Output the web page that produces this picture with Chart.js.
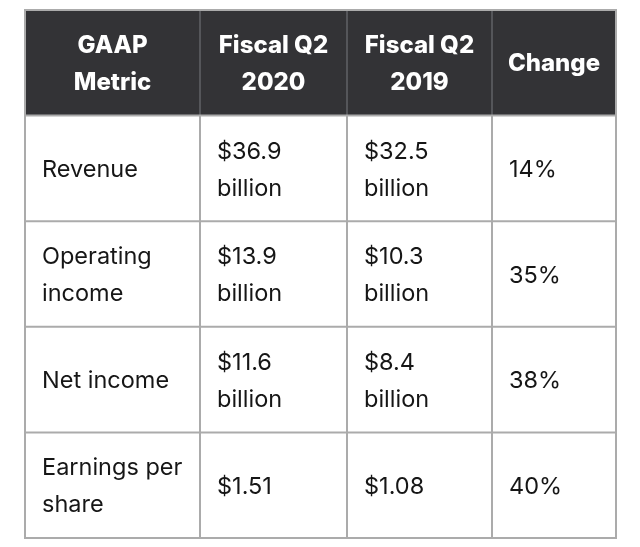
<!DOCTYPE html>
<html><head><meta charset="utf-8">
<script src="https://cdn.jsdelivr.net/npm/chart.js@4"></script>
<style>html,body{margin:0;padding:0;background:#fff}canvas{display:block}</style>
</head><body>
<canvas id="c" width="640" height="547"></canvas>
<script>
// ---- data ----
const headerLabels = ['GAAP\nMetric', 'Fiscal Q2\n2020', 'Fiscal Q2\n2019', 'Change'];
const metrics = ['Revenue', 'Operating\nincome', 'Net income', 'Earnings per\nshare'];
const q2_2020 = [36.9, 13.9, 11.6, 1.51];
const q2_2019 = [32.5, 10.3, 8.4, 1.08];
const units = ['billion', 'billion', 'billion', ''];
const changePct = [14, 35, 38, 40];

const money = (v, u) => '$' + String(v) + (u ? '\n' + u : '');
const bodyRows = metrics.map((m, i) => [m, money(q2_2020[i], units[i]), money(q2_2019[i], units[i]), changePct[i] + '%']);

const tablePlugin = {
  id: 'table',
  afterDraw(chart, args, opts) {
    const { ctx, chartArea: a, scales: { y } } = chart;
    const total = opts.colWidths.reduce((s, w) => s + w, 0);
    const xs = [a.left];
    opts.colWidths.forEach(w => xs.push(xs[xs.length - 1] + w / total * (a.right - a.left)));
    const n = y.getLabels().length;
    const band = (a.bottom - a.top) / n;
    const ys = [];
    for (let i = 0; i < n; i++) ys.push(y.getPixelForValue(i) - band / 2);
    ys.push(a.bottom);
    ctx.save();
    ctx.fillStyle = opts.headerBg;
    ctx.fillRect(a.left, ys[0], a.right - a.left, ys[1] - ys[0]);
    ctx.lineWidth = 2;
    ctx.strokeStyle = opts.headerLine;
    for (let c = 1; c < xs.length - 1; c++) {
      ctx.beginPath(); ctx.moveTo(xs[c], ys[0]); ctx.lineTo(xs[c], ys[1]); ctx.stroke();
    }
    ctx.strokeStyle = opts.line;
    for (let c = 1; c < xs.length - 1; c++) {
      ctx.beginPath(); ctx.moveTo(xs[c], ys[1]); ctx.lineTo(xs[c], a.bottom); ctx.stroke();
    }
    for (let r = 1; r < ys.length - 1; r++) {
      ctx.beginPath(); ctx.moveTo(a.left, ys[r]); ctx.lineTo(a.right, ys[r]); ctx.stroke();
    }
    ctx.strokeRect(a.left, a.top, a.right - a.left, a.bottom - a.top);

    const lh = opts.lineHeight;
    const drawCell = (text, c, r, header) => {
      const lines = text.split('\n');
      const cy = (ys[r] + ys[r + 1]) / 2;
      ctx.font = header ? ('800 ' + opts.headerFontSize + 'px ' + opts.fontFamily)
                        : ('400 ' + opts.fontSize + 'px ' + opts.fontFamily);
      ctx.fillStyle = header ? opts.headerColor : opts.bodyColor;
      ctx.textAlign = header ? 'center' : 'left';
      ctx.textBaseline = 'alphabetic';
      const x = header ? (xs[c] + xs[c + 1]) / 2 : xs[c] + opts.padX;
      lines.forEach((ln, k) => {
        const mid = cy + (k - (lines.length - 1) / 2) * lh;
        ctx.fillText(ln, x, mid + opts.capHalf);
      });
    };
    headerLabels.forEach((t, c) => drawCell(t, c, 0, true));
    bodyRows.forEach((row, r) => row.forEach((t, c) => drawCell(t, c, r + 1, false)));
    ctx.restore();
  }
};

new Chart(document.getElementById('c'), {
  type: 'bar',
  data: { labels: [], datasets: [] },
  plugins: [tablePlugin],
  options: {
    responsive: false,
    animation: false,
    layout: { padding: { left: 25, top: 10, right: 24, bottom: 9 } },
    scales: {
      x: { type: 'linear', min: 0, max: 1, display: false },
      y: { type: 'category', labels: ['header'].concat(metrics), offset: true, display: false }
    },
    plugins: {
      legend: { display: false },
      tooltip: { enabled: false },
      table: {
        colWidths: [175, 147, 145, 124],
        headerBg: '#333336',
        headerLine: '#55565a',
        line: '#ababab',
        headerColor: '#ffffff',
        bodyColor: '#161616',
        headerFontSize: 24,
        fontSize: 23.5,
        fontFamily: 'Inter, "Open Sans", sans-serif',
        lineHeight: 37,
        capHalf: 8.6,
        padX: 17
      }
    }
  }
});
</script>
</body></html>
